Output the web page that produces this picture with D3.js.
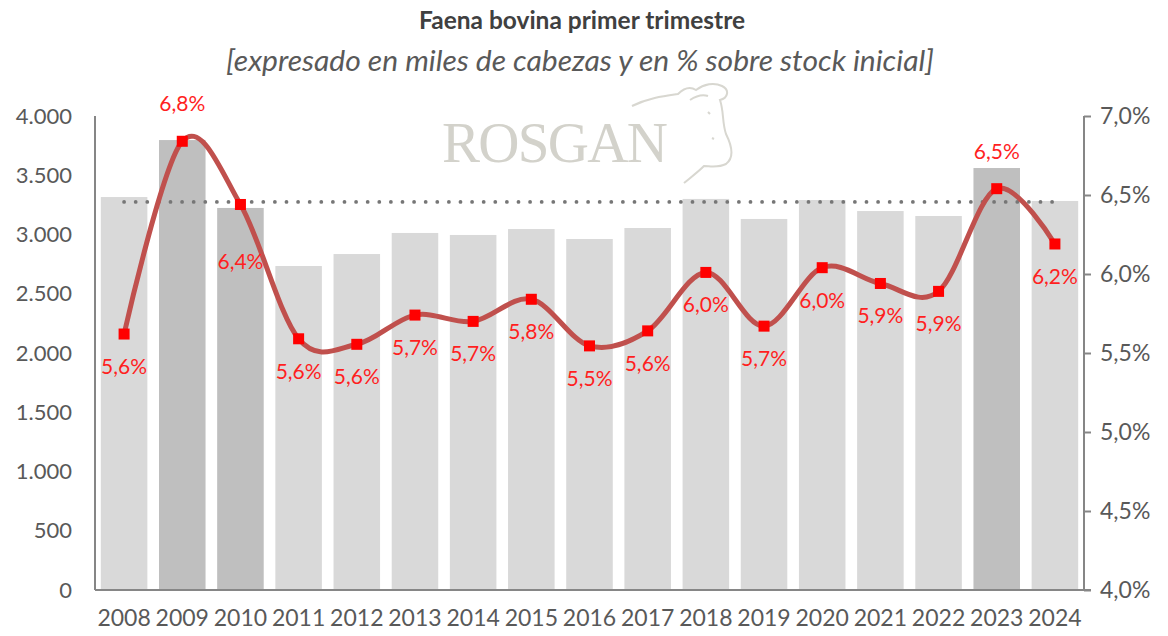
<!DOCTYPE html>
<html>
<head>
<meta charset="utf-8">
<script src="https://cdn.jsdelivr.net/npm/d3@7"></script>
<style>
  body { margin: 0; background: #fff; }
  svg { display: block; font-family: Lato, "Open Sans", sans-serif; }
</style>
</head>
<body>
<div id="container"></div>
<script>
// datos: faena primer trimestre (miles de cabezas) y % sobre stock inicial
const years = ["2008", "2009", "2010", "2011", "2012", "2013", "2014", "2015", "2016",
  "2017", "2018", "2019", "2020", "2021", "2022", "2023", "2024"];
const faena = [3316, 3797, 3224, 2734, 2835, 3013, 2996, 3046, 2962,
  3055, 3300, 3131, 3291, 3198, 3156, 3561, 3283];
const pctStock = [5.62, 6.84, 6.44, 5.59, 5.555, 5.74, 5.70, 5.84, 5.545,
  5.64, 6.01, 5.67, 6.04, 5.94, 5.89, 6.54, 6.19];
const highlightYears = ["2009", "2010", "2023"];
const referenceLevel = 3275;
const leftTicks = [0, 500, 1000, 1500, 2000, 2500, 3000, 3500, 4000];
const rightTicks = [4.0, 4.5, 5.0, 5.5, 6.0, 6.5, 7.0];
const title = "Faena bovina primer trimestre";
const subtitle = "[expresado en miles de cabezas y en % sobre stock inicial]";

const width = 1168;
const height = 636;
const margin = { top: 116, right: 84, bottom: 46, left: 95 };

const locale = d3.formatLocale({ decimal: ",", thousands: ".", grouping: [3], currency: ["$", ""] });
const fmtThousands = locale.format(",d");
const fmtPct = (d) => locale.format(".1f")(d) + "%";

const svg = d3
  .select("#container")
  .append("svg")
  .attr("width", width)
  .attr("height", height);

const xScale = d3
  .scaleBand()
  .domain(years)
  .range([margin.left, width - margin.right])
  .paddingInner(0.2)
  .paddingOuter(0.1);

const yScale = d3
  .scaleLinear()
  .domain([0, 4000])
  .range([height - margin.bottom, margin.top]);

const yPct = d3
  .scaleLinear()
  .domain([4, 7])
  .range([height - margin.bottom, margin.top]);

// titulo
svg.append("text")
  .attr("x", 582)
  .attr("y", 29)
  .attr("text-anchor", "middle")
  .attr("font-size", "25px")
  .attr("font-weight", "bold")
  .attr("fill", "#404040")
  .attr("textLength", 326)
  .attr("lengthAdjust", "spacingAndGlyphs")
  .text(title);

svg.append("text")
  .attr("x", 580)
  .attr("y", 71)
  .attr("text-anchor", "middle")
  .attr("font-size", "28px")
  .attr("font-style", "italic")
  .attr("fill", "#595959")
  .attr("textLength", 708)
  .attr("lengthAdjust", "spacingAndGlyphs")
  .text(subtitle);

// marca de agua ROSGAN
const logo = svg.append("g").attr("opacity", 0.9);
logo.append("text")
  .attr("x", 442)
  .attr("y", 162)
  .attr("font-family", "'Liberation Serif', 'DejaVu Serif', serif")
  .attr("font-size", "57px")
  .attr("fill", "#cfcec6")
  .attr("textLength", 226)
  .text("ROSGAN");
logo.append("path")
  .attr("d", "M632,106 C648,98 664,96 678,94 C684,88 690,86 696,90 C704,84 714,82 722,86 C730,90 728,98 720,100 C724,112 722,122 726,134 C732,146 734,158 726,164 C718,168 710,166 704,166 C698,172 690,178 684,183 M690,100 C696,96 702,94 708,96 M708,112 l2,2 M712,138 l2,1")
  .attr("fill", "none")
  .attr("stroke", "#d4d3cc")
  .attr("stroke-width", 2);

// barras
svg.selectAll("rect.bar")
  .data(years)
  .enter()
  .append("rect")
  .attr("class", "bar")
  .attr("x", (d) => xScale(d))
  .attr("width", xScale.bandwidth())
  .attr("y", (d, i) => yScale(faena[i]))
  .attr("height", (d, i) => yScale(0) - yScale(faena[i]))
  .attr("fill", (d) => (highlightYears.includes(d) ? "#bfbfbf" : "#d9d9d9"));

// linea de referencia punteada
const xCenter = (d) => xScale(d) + xScale.bandwidth() / 2;
svg.append("line")
  .attr("x1", xCenter(years[0]))
  .attr("x2", xCenter(years[years.length - 1]))
  .attr("y1", yScale(referenceLevel))
  .attr("y2", yScale(referenceLevel))
  .attr("stroke", "#767676")
  .attr("stroke-width", 3.8)
  .attr("stroke-linecap", "round")
  .attr("stroke-dasharray", "0 11.6");

// ejes
const axisColor = "#868686";
const leftAxis = svg.append("g")
  .attr("transform", `translate(${margin.left},0)`)
  .call(d3.axisLeft(yScale).tickValues(leftTicks).tickSize(0).tickPadding(23).tickFormat(fmtThousands));
const rightAxis = svg.append("g")
  .attr("transform", `translate(${width - margin.right},0)`)
  .call(d3.axisRight(yPct).tickValues(rightTicks).tickSize(7).tickPadding(9).tickFormat(fmtPct));
const bottomAxis = svg.append("g")
  .attr("transform", `translate(0,${height - margin.bottom})`)
  .call(d3.axisBottom(xScale).tickSize(0).tickPadding(20));

[leftAxis, rightAxis, bottomAxis].forEach((ax) => {
  ax.select(".domain").attr("stroke", axisColor).attr("stroke-width", 2);
  ax.selectAll(".tick line").attr("stroke", axisColor).attr("stroke-width", 2);
  ax.selectAll(".tick text")
    .attr("fill", "#595959")
    .attr("font-size", "22px")
    .attr("font-family", "Lato, 'Open Sans', sans-serif");
});
leftAxis.select(".domain").attr("d", `M0,${yScale(0)}V${yScale(4000)}`);
rightAxis.select(".domain").attr("d", `M0,${yPct(4)}V${yPct(7)}`);
bottomAxis.select(".domain").attr("d", `M${margin.left},0H${width - margin.right + 7}`);
bottomAxis.selectAll(".tick text").attr("font-size", "23px");
rightAxis.selectAll(".tick text").attr("font-size", "23px");

// linea suavizada
const line = d3
  .line()
  .x((d) => xCenter(d))
  .y((d, i) => yPct(pctStock[i]))
  .curve(d3.curveCardinal.tension(0));

svg.append("path")
  .datum(years)
  .attr("d", line)
  .attr("fill", "none")
  .attr("stroke", "#c0504d")
  .attr("stroke-width", 5)
  .attr("stroke-linejoin", "round");

svg.selectAll("rect.marker")
  .data(years)
  .enter()
  .append("rect")
  .attr("class", "marker")
  .attr("x", (d) => xCenter(d) - 5.5)
  .attr("y", (d, i) => yPct(pctStock[i]) - 5.5)
  .attr("width", 11)
  .attr("height", 11)
  .attr("fill", "#ff0000");

// etiquetas de porcentaje
const labelAbove = ["2009", "2023"];
const labelFar = ["2010"];
svg.selectAll("text.pct")
  .data(years)
  .enter()
  .append("text")
  .attr("class", "pct")
  .attr("x", (d) => xCenter(d))
  .attr("y", (d, i) => {
    const y = yPct(pctStock[i]);
    if (labelAbove.includes(d)) return y - 30;
    if (labelFar.includes(d)) return y + 65;
    return y + 40;
  })
  .attr("text-anchor", "middle")
  .attr("font-size", "21px")
  .attr("fill", "#ff1f1f")
  .text((d, i) => fmtPct(pctStock[i]));
</script>
</body>
</html>
